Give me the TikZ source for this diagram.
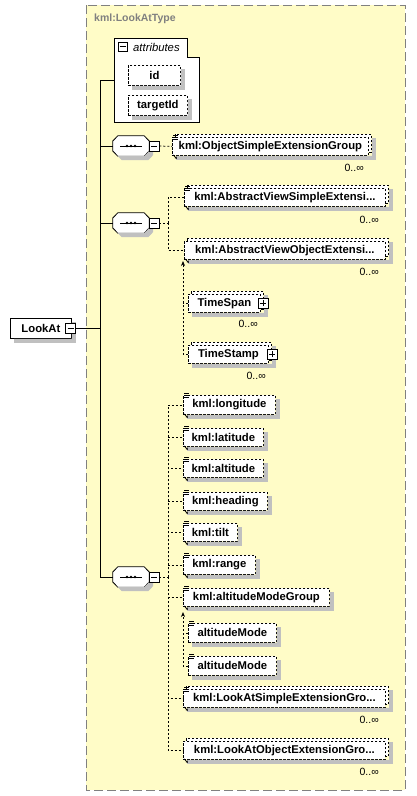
\documentclass[tikz,border=0pt]{standalone}
\usepackage{fontspec}
\setmainfont{Liberation Sans}
\usetikzlibrary{arrows.meta}
\colorlet{typebg}{yellow!22}
\colorlet{typeline}{black!50}
\definecolor{shadowgray}{RGB}{192,192,192}
\newcommand\elemfont{\fontsize{11.3}{13}\selectfont\bfseries}
\newcommand\occfont{\fontsize{10.5}{12}\selectfont}
\tikzset{
  typename/.style={text=typeline, font=\fontsize{10.5}{12}\selectfont\bfseries, anchor=west, inner sep=0pt},
  elem/.style={draw, line width=0.8pt, dash pattern=on 2.5pt off 1.5pt, fill=white, anchor=north west, inner sep=0pt, font=\elemfont},
  root/.style={draw, line width=0.8pt, fill=white, anchor=north west, inner sep=0pt, font=\elemfont},
  seqbox/.style={minimum width=36pt, minimum height=20pt, inner sep=0pt},
  pmbox/.style={draw, line width=0.8pt, fill=white, minimum size=10pt, inner sep=0pt},
  occ/.style={font=\occfont, anchor=east, inner sep=0pt},
  tree/.style={line width=0.9pt},
  conn/.style={line width=0.8pt, dash pattern=on 2pt off 2pt},
  subarrow/.style={-{Stealth[length=5pt,width=4pt]}},
  icon/.style={line width=0.7pt}
}
\begin{document}
\begin{tikzpicture}[x=1pt, y=-1pt]
\useasboundingbox (0,0) rectangle (416,796);
% complex type
\fill[typebg] (86,5) rectangle (405,790);
\draw[typeline, line width=1pt, dash pattern=on 9pt off 4pt] (86,5) rectangle (405,790);
% repeated copies
\foreach \x/\y/\w/\h in {172/137/196/18, 184/188/201/18, 184/241/201/18, 188/294/72/18,
    188/345/80/18, 183/689/202/18, 183/741/202/18}
  \draw[line width=0.8pt, dash pattern=on 2.5pt off 1.5pt, fill=white] ({\x+3},{\y-3}) rectangle ({\x+\w+3},{\y+\h-3});
\node[typename] (tname) at (94,19) {kml:LookAtType};
% attributes
\draw[line width=0.8pt, fill=white] (114,38) -- (187,38) -- (187,57) -- (199,57) -- (199,122) -- (114,122) -- cycle;
\node[pmbox, minimum size=9pt] (attm) at (122.5,46.5) {};
\node[font=\fontsize{11.3}{13}\selectfont\itshape, anchor=west, inner sep=0pt] (attl) at (133,47) {attributes};
\node[elem, minimum width=52pt, minimum height=20pt] (id) at (128,65) {id};
\node[elem, minimum width=59pt, minimum height=20pt] (tid) at (128,95) {targetId};
% root element
\node[root, minimum width=61pt, minimum height=20pt] (lookat) at (10,318) {LookAt};
% sequences
\node[seqbox] (seq1) at (131,146) {};
\node[seqbox] (seq2) at (131,223) {};
\node[seqbox] (seq3) at (131,577) {};
% first sequence
\node[elem, minimum width=196pt, minimum height=18pt] (osx) at (172,137) {kml:ObjectSimpleExtensionGroup};
\node[occ] (osxo) at (364,168) {0..∞};
% second sequence
\node[elem, minimum width=201pt, minimum height=18pt] (avs) at (184,188) {kml:AbstractViewSimpleExtensi...};
\node[occ] (avso) at (379,220) {0..∞};
\node[elem, minimum width=201pt, minimum height=18pt] (avo) at (184,241) {kml:AbstractViewObjectExtensi...};
\node[occ] (avoo) at (379,272) {0..∞};
\node[elem, minimum width=72pt, minimum height=18pt] (tspan) at (188,294) {TimeSpan\hspace{6pt}};
\node[occ] (tspano) at (258,324) {0..∞};
\node[elem, minimum width=80pt, minimum height=18pt] (tstamp) at (188,345) {TimeStamp\hspace{6pt}};
\node[occ] (tstampo) at (266,376) {0..∞};
% third sequence
\node[elem, minimum width=92pt, minimum height=19pt] (lon) at (183,395) {kml:longitude};
\node[elem, minimum width=80pt, minimum height=18pt] (lat) at (183,428) {kml:latitude};
\node[elem, minimum width=80pt, minimum height=18pt] (alt) at (183,459) {kml:altitude};
\node[elem, minimum width=84pt, minimum height=18pt] (head) at (183,492) {kml:heading};
\node[elem, minimum width=54pt, minimum height=18pt] (tilt) at (183,523) {kml:tilt};
\node[elem, minimum width=72pt, minimum height=19pt] (rng) at (183,555) {kml:range};
\node[elem, minimum width=146pt, minimum height=18pt] (amg) at (183,588) {kml:altitudeModeGroup};
\node[elem, minimum width=88pt, minimum height=19pt] (am1) at (188,623) {altitudeMode};
\node[elem, minimum width=88pt, minimum height=19pt] (am2) at (188,656) {altitudeMode};
\node[elem, minimum width=202pt, minimum height=18pt] (lsx) at (183,689) {kml:LookAtSimpleExtensionGro...};
\node[occ] (lsxo) at (379,720) {0..∞};
\node[elem, minimum width=202pt, minimum height=18pt] (lox) at (183,741) {kml:LookAtObjectExtensionGro...};
\node[occ] (loxo) at (379,772) {0..∞};
% shadows, drawn beside the boxes
\foreach \e in {id,tid,lookat,lon,lat,alt,head,tilt,rng,amg,am1,am2}
  \fill[shadowgray] ([yshift=-4pt]\e.north east) -- ([shift={(4pt,-4pt)}]\e.north east) -- ([shift={(4pt,-4pt)}]\e.south east)
    -- ([shift={(4pt,-4pt)}]\e.south west) -- ([xshift=4pt]\e.south west) -- (\e.south east) -- cycle;
\foreach \e in {osx,avs,avo,tspan,tstamp,lsx,lox}
  \fill[shadowgray] ([shift={(3.4pt,-1pt)}]\e.north east) -- ([shift={(7pt,-1pt)}]\e.north east) -- ([shift={(7pt,-4pt)}]\e.south east)
    -- ([shift={(4pt,-4pt)}]\e.south west) -- ([xshift=4pt]\e.south west) -- ([xshift=3.4pt]\e.south east) -- cycle;
% model groups
\foreach \s in {seq1,seq2,seq3} {
  \draw[line width=0.8pt, fill=white] ([yshift=5pt]\s.west) -- ([xshift=5pt]\s.north west) -- ([xshift=-5pt]\s.north east)
    -- ([yshift=5pt]\s.east) -- ([yshift=-5pt]\s.east) -- ([xshift=-5pt]\s.south east) -- ([xshift=5pt]\s.south west)
    -- ([yshift=-5pt]\s.west) -- cycle;
  \fill[shadowgray] ([yshift=5pt]\s.east) -- ([shift={(4pt,1pt)}]\s.east) -- ([shift={(4pt,-9pt)}]\s.east)
    -- ([shift={(-1pt,-4pt)}]\s.south east) -- ([shift={(9pt,-4pt)}]\s.south west) -- ([shift={(4pt,-9pt)}]\s.west)
    -- ([shift={(5pt,-10pt)}]\s.west) -- ([xshift=-5pt]\s.south east) -- ([yshift=-5pt]\s.east) -- cycle;
  \draw[line width=0.8pt] ([xshift=-11pt]\s.center) -- ([xshift=11pt]\s.center);
  \foreach \dx in {-4,0,4} \fill ([xshift=\dx pt]\s.center) circle (1.4pt);
}
% minus and plus boxes
\node[pmbox] (lookatm) at (70.5,328) {};
\node[pmbox] (seq1m) at (154,146) {};
\node[pmbox] (seq2m) at (154,223) {};
\node[pmbox] (seq3m) at (154,577) {};
\node[pmbox] (tspanp) at (263,303) {};
\node[pmbox] (tstampp) at (272,354) {};
\foreach \m in {attm,lookatm,seq1m,seq2m,seq3m}
  \draw[line width=0.8pt] ([xshift=-3pt]\m.center) -- ([xshift=3pt]\m.center);
\foreach \p in {tspanp,tstampp} {
  \draw[line width=0.8pt] ([xshift=-3pt]\p.center) -- ([xshift=3pt]\p.center);
  \draw[line width=0.8pt] ([yshift=-3pt]\p.center) -- ([yshift=3pt]\p.center);
}
% element icons
\foreach \e in {osx,avs,lon,lat,alt,head,tilt,rng,amg,am1,am2,lsx}
  \foreach \dy in {2,0,-2}
    \draw[icon] ([shift={(1pt,\dy pt)}]\e.north west) -- ++(5pt,0pt);
\foreach \e in {osx,avs,avo,lon,lat,alt,head,tilt,rng,amg,lsx,lox}
  \draw[icon, -{Stealth[length=2.5pt,width=2.5pt]}] ([shift={(1pt,1pt)}]\e.south west) -- ++(4pt,-4pt);
% tree
\coordinate (trunk) at (100,328);
\coordinate (attw) at (114,80);
\draw[tree] (lookatm.east) -- (trunk);
\draw[tree] (trunk) |- (attw);
\draw[tree] (trunk) |- (seq1.west);
\draw[tree] (trunk) |- (seq2.west);
\draw[tree] (trunk) |- (seq3.west);
% branches
\draw[conn] (seq1m.east) -- (osx.west);
\coordinate (b2) at (168,223);
\draw[conn] (seq2m.east) -- (b2);
\draw[conn] (b2) |- (avs.west);
\draw[conn] (b2) |- (avo.west);
\coordinate (sub1) at (183,261);
\draw[conn, subarrow] (tstamp.west) -| (sub1);
\draw[conn] (tspan.west) -- (tspan.west -| sub1);
\coordinate (b3) at (168,577);
\draw[conn] (seq3m.east) -- (b3);
\foreach \e in {lon,lat,alt,head,tilt,rng,amg,lsx,lox}
  \draw[conn] (b3) |- (\e.west);
\coordinate (sub2) at (183,612);
\draw[conn, subarrow] (am2.west) -| (sub2);
\draw[conn] (am1.west) -- (am1.west -| sub2);
\end{tikzpicture}
\end{document}
